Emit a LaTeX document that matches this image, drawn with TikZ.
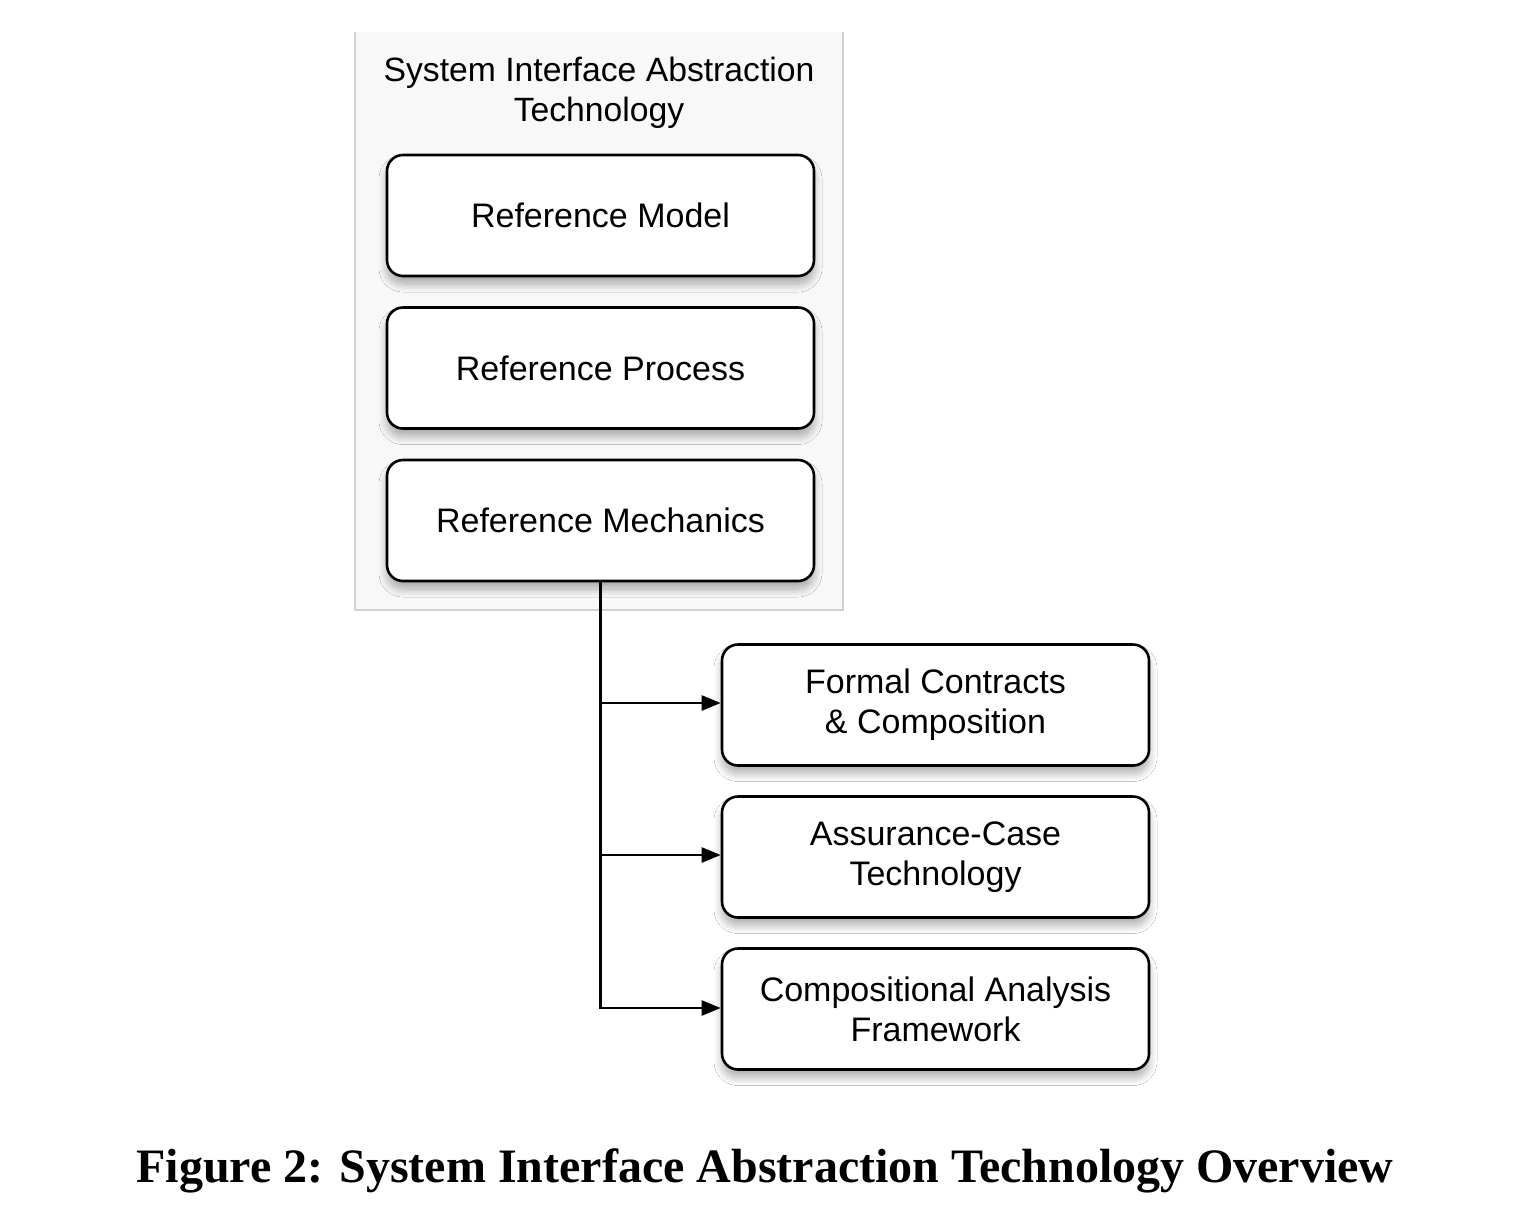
\documentclass[tikz,border=0pt]{standalone}
\usepackage{fontspec}
\setmainfont{Liberation Serif}
\newfontfamily\boxfont{Liberation Sans}
\usetikzlibrary{arrows.meta,shadows.blur}
\definecolor{contfill}{HTML}{F8F8F8}
\definecolor{contline}{HTML}{D2D2D2}
\tikzset{
  blockbox/.style={draw=black, line width=2.6pt, rounded corners=16pt, fill=white,
    minimum width=427pt, minimum height=121pt, align=center, inner sep=0pt,
    font=\boxfont\fontsize{34}{40}\selectfont,
    blur shadow={shadow xshift=0pt, shadow yshift=-8pt, shadow blur radius=8pt, shadow blur steps=12, shadow opacity=32}},
  link/.style={draw=black, line width=2.4pt, -{Triangle[length=19pt,width=15pt]}},
}
\begin{document}
\begin{tikzpicture}[x=1pt,y=-1pt]
\useasboundingbox (0,0) rectangle (1530,1211);
\fill[white] (0,0) rectangle (1530,1211);
% container
\fill[contfill] (355,32) rectangle (843,610);
\draw[contline, line width=1.2pt] (355,32) -- (355,610) -- (843,610) -- (843,32);
\node (hdr) [font=\boxfont\fontsize{33.7}{40}\selectfont, align=center] at (599,93)
  {System Interface Abstraction\\Technology};
\node (rmod) [blockbox] at (600.5,215.5) {Reference Model};
\node (rproc) [blockbox] at (600.5,368) {Reference Process};
\node (rmech) [blockbox] at (600.5,520.5) {Reference Mechanics};
\node (fc) [blockbox] at (935.5,705) {Formal Contracts\\\& Composition};
\node (ac) [blockbox] at (935.5,857) {Assurance-Case\\Technology};
\node (ca) [blockbox] at (935.5,1009) {Compositional Analysis\\Framework};
\draw[link] (rmech.south) |- ([yshift=2pt]fc.west);
\draw[link] (rmech.south) |- ([yshift=2pt]ac.west);
\draw[link] (rmech.south) |- ([yshift=1pt]ca.west);
\node (cap) [font=\bfseries\fontsize{48}{54}\selectfont] at (765,1171)
  {Figure 2: System Interface Abstraction Technology Overview};
\end{tikzpicture}
\end{document}
